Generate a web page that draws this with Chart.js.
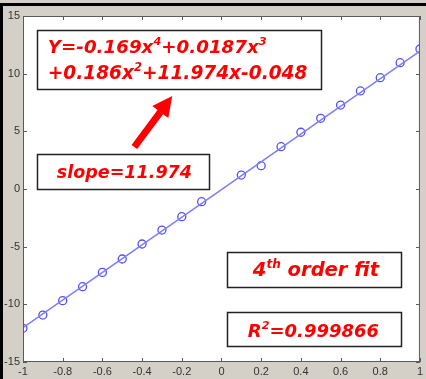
<!DOCTYPE html>
<html>
<head>
<meta charset="utf-8">
<script src="https://cdn.jsdelivr.net/npm/chart.js@4.4.1/dist/chart.umd.min.js"></script>
<style>
html,body{margin:0;padding:0;background:#d4d0c8;}
canvas{display:block;}
</style>
</head>
<body>
<canvas id="c" width="426" height="379"></canvas>
<script>
// ---- data ----
const pointX = [-1,-0.9,-0.8,-0.7,-0.6,-0.5,-0.4,-0.3,-0.2,-0.1,0.1,0.2,0.3,0.4,0.5,0.6,0.7,0.8,0.9,1];
const pointY = [-12.08,-10.93,-9.68,-8.47,-7.23,-6.07,-4.77,-3.56,-2.40,-1.10,1.21,2.02,3.67,4.92,6.13,7.28,8.50,9.65,10.95,12.14];
const fitX = [-1,-0.5,0,0.5,1];
const fitY = [-12.02,-6.04,-0.05,5.98,11.96];
const xTicks = [-1,-0.8,-0.6,-0.4,-0.2,0,0.2,0.4,0.6,0.8,1];
const xTickLabels = ['-1','-0.8','-0.6','-0.4','-0.2','0','0.2','0.4','0.6','0.8','1'];
const yTicks = [-15,-10,-5,0,5,10,15];
const yTickLabels = ['-15','-10','-5','0','5','10','15'];

// annotation texts (segments: [text, isSuperscript])
const eqLine1 = [['Y=-0.169x',0],['4',1],['+0.0187x',0],['3',1]];
const eqLine2 = [['+0.186x',0],['2',1],['+11.974x-0.048',0]];
const slopeText = [['slope=11.974',0]];
const orderText = [['4',0],['th',1],[' order fit',0]];
const r2Text = [['R',0],['2',1],['=0.999866',0]];

const FONT_FAMILY = '"DejaVu Sans", sans-serif';

function richWidth(ctx, segs, size){
  let w = 0;
  for (const [t, sup] of segs){
    ctx.font = 'italic bold ' + (sup ? size*0.62 : size) + 'px ' + FONT_FAMILY;
    w += ctx.measureText(t).width;
  }
  return w;
}
function drawRich(ctx, segs, x0, x1, baseline){
  const base = 20;
  const w = richWidth(ctx, segs, base);
  const size = base * (x1 - x0) / w;
  let x = x0;
  ctx.fillStyle = '#ff0000';
  ctx.textBaseline = 'alphabetic';
  ctx.textAlign = 'left';
  for (const [t, sup] of segs){
    const s = sup ? size*0.62 : size;
    ctx.font = 'italic bold ' + s + 'px ' + FONT_FAMILY;
    ctx.fillText(t, x, sup ? baseline - size*0.42 : baseline);
    x += ctx.measureText(t).width;
  }
}

const annotPlugin = {
  id: 'annot',
  beforeDraw(chart){
    const ctx = chart.ctx, a = chart.chartArea;
    ctx.save();
    ctx.fillStyle = '#d4d0c8';
    ctx.fillRect(0,0,chart.width,chart.height);
    ctx.fillStyle = '#000';
    ctx.fillRect(0,3,chart.width,3);
    ctx.fillRect(0,3,3,chart.height);
    ctx.fillStyle = '#ffffff';
    ctx.fillRect(a.left,a.top,a.right-a.left,a.bottom-a.top);
    ctx.restore();
  },
  afterDatasetsDraw(chart){
    const ctx = chart.ctx, a = chart.chartArea;
    const xs = chart.scales.x, ys = chart.scales.y;
    const X = v => xs.getPixelForValue(v), Y = v => ys.getPixelForValue(v);
    ctx.save();
    // frame
    ctx.strokeStyle = '#5a5a5a';
    ctx.lineWidth = 1;
    ctx.strokeRect(a.left+0.5, a.top+0.5, a.right-a.left-1, a.bottom-a.top-1);
    // inside ticks
    ctx.beginPath();
    for (const v of xTicks){
      const px = Math.round(X(v))+0.5;
      ctx.moveTo(px,a.bottom); ctx.lineTo(px,a.bottom-4);
      ctx.moveTo(px,a.top); ctx.lineTo(px,a.top+4);
    }
    for (const v of yTicks){
      const py = Math.round(Y(v))+0.5;
      ctx.moveTo(a.left,py); ctx.lineTo(a.left+4,py);
      ctx.moveTo(a.right,py); ctx.lineTo(a.right-4,py);
    }
    ctx.stroke();

    // boxes
    function box(x0,x1,y0,y1){
      const l=Math.round(X(x0))+0.5, r=Math.round(X(x1))+0.5, t=Math.round(Y(y0))+0.5, b=Math.round(Y(y1))+0.5;
      ctx.fillStyle='#ffffff';
      ctx.fillRect(l,t,r-l,b-t);
      ctx.strokeStyle='#222';
      ctx.lineWidth=1.5;
      ctx.strokeRect(l,t,r-l,b-t);
    }
    box(-0.930,0.499,13.79,8.67);
    box(-0.930,-0.063,3.03,0.0);
    box(0.028,0.905,-5.46,-8.50);
    box(0.028,0.905,-10.67,-13.61);

    drawRich(ctx, eqLine1, X(-0.875), X(0.228), Y(11.79));
    drawRich(ctx, eqLine2, X(-0.875), X(0.434), Y(9.54));
    drawRich(ctx, slopeText, X(-0.830), X(-0.148), Y(0.95));
    drawRich(ctx, orderText, X(0.158), X(0.794), Y(-7.54));
    drawRich(ctx, r2Text, X(0.133), X(0.794), Y(-12.83));

    // arrow
    const tx = X(-0.439), ty = Y(3.64), hx = X(-0.248), hy = Y(8.06);
    const dx = hx-tx, dy = hy-ty, len = Math.hypot(dx,dy);
    const ux = dx/len, uy = dy/len, nx = -uy, ny = ux;
    const headLen = 20, headHalf = 10, shaftHalf = 3.5;
    const bx = hx - ux*headLen, by = hy - uy*headLen;
    ctx.fillStyle = '#ff0000';
    ctx.beginPath();
    ctx.moveTo(tx+nx*shaftHalf, ty+ny*shaftHalf);
    ctx.lineTo(bx+nx*shaftHalf, by+ny*shaftHalf);
    ctx.lineTo(bx+nx*headHalf, by+ny*headHalf);
    ctx.lineTo(hx, hy);
    ctx.lineTo(bx-nx*headHalf, by-ny*headHalf);
    ctx.lineTo(bx-nx*shaftHalf, by-ny*shaftHalf);
    ctx.lineTo(tx-nx*shaftHalf, ty-ny*shaftHalf);
    ctx.closePath();
    ctx.fill();
    ctx.restore();
  }
};

new Chart(document.getElementById('c'), {
  type: 'scatter',
  data: {
    datasets: [
      {
        data: fitX.map((x,i)=>({x, y: fitY[i]})),
        showLine: true,
        borderColor: '#7d7dff',
        borderWidth: 1.5,
        pointRadius: 0,
        fill: false
      },
      {
        data: pointX.map((x,i)=>({x, y: pointY[i]})),
        showLine: false,
        pointStyle: 'circle',
        pointRadius: 4,
        pointBorderWidth: 1.3,
        pointBorderColor: '#5050ff',
        pointBackgroundColor: 'rgba(0,0,0,0)'
      }
    ]
  },
  options: {
    responsive: false,
    animation: false,
    devicePixelRatio: 1,
    layout: { padding: { top: 16, right: 4, left: 0, bottom: 0 } },
    plugins: { legend: { display: false }, tooltip: { enabled: false } },
    scales: {
      x: {
        type: 'linear', min: -1, max: 1,
        afterBuildTicks(s){ s.ticks = xTicks.map(v=>({value:v})); },
        afterFit(s){ s.height = 17; },
        grid: { display: false, drawTicks: false },
        border: { display: false },
        ticks: {
          padding: 3, maxRotation: 0, autoSkip: false,
          color: '#333', font: { family: '"Liberation Sans", Arial, sans-serif', size: 11 },
          callback: (v,i) => xTickLabels[i]
        }
      },
      y: {
        type: 'linear', min: -15, max: 15,
        afterBuildTicks(s){ s.ticks = yTicks.map(v=>({value:v})); },
        afterFit(s){ s.width = 23; },
        grid: { display: false, drawTicks: false },
        border: { display: false },
        ticks: {
          padding: 3, autoSkip: false,
          color: '#333', font: { family: '"Liberation Sans", Arial, sans-serif', size: 11 },
          callback: (v,i) => yTickLabels[i]
        }
      }
    }
  },
  plugins: [annotPlugin]
});
</script>
</body>
</html>
